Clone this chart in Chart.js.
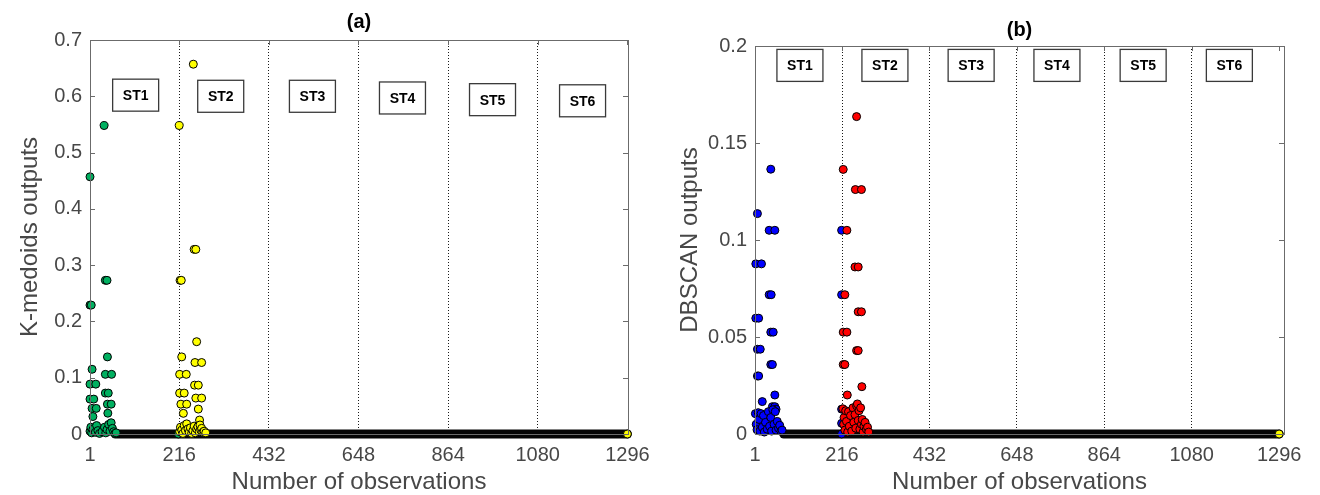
<!DOCTYPE html>
<html>
<head>
<meta charset="utf-8">
<script src="https://cdn.jsdelivr.net/npm/chart.js@4"></script>
<style>
  html, body { margin: 0; padding: 0; background: #fff; }
  #wrap { position: relative; width: 1320px; height: 495px; }
  .pane { position: absolute; top: 0; width: 660px; height: 495px; }
</style>
</head>
<body>
<div id="wrap">
  <div class="pane" style="left:0"><canvas id="chartA" width="660" height="495"></canvas></div>
  <div class="pane" style="left:660px"><canvas id="chartB" width="660" height="495"></canvas></div>
</div>
<script>
// Axes communs
var xTicks = [1, 216, 432, 648, 864, 1080, 1296];
var stations = ['ST1', 'ST2', 'ST3', 'ST4', 'ST5', 'ST6'];

// (a) K-medoids
var yTicksA = [0, 0.1, 0.2, 0.3, 0.4, 0.5, 0.6, 0.7];
var kmGreenObs = [1, 35, 1, 4, 38, 42, 43, 6, 1, 15, 38, 53, 1, 10, 38, 45, 6, 16, 43, 52, 8, 44,
  1, 3, 5, 8, 11, 14, 17, 20, 24, 30, 36, 39, 42, 46, 49, 52, 55, 58, 61, 64, 214];
var kmGreenVal = [0.457, 0.548, 0.229, 0.229, 0.273, 0.273, 0.137, 0.115, 0.0886, 0.0886, 0.106, 0.106,
  0.062, 0.062, 0.0727, 0.0727, 0.0455, 0.0455, 0.053, 0.053, 0.031, 0.037,
  0.005, 0.012, 0.002, 0.008, 0.01, 0.003, 0.015, 0.006, 0.001, 0.004, 0.012, 0.002, 0.008, 0.017,
  0.005, 0.02, 0.01, 0.004, 0.001, 0.002, 0];
var kmYellowObs = [250, 216, 252, 256, 218, 221, 258, 222, 254, 270, 217, 233, 253, 262, 217, 228,
  256, 270, 220, 234, 262, 226, 265,
  217, 219, 222, 225, 228, 231, 234, 237, 240, 243, 246, 249, 252, 255, 258, 261, 264, 266, 268,
  270, 273, 276, 280];
var kmYellowVal = [0.657, 0.548, 0.328, 0.328, 0.273, 0.273, 0.164, 0.137, 0.127, 0.127, 0.106, 0.106,
  0.0868, 0.0868, 0.0727, 0.0727, 0.0638, 0.0638, 0.053, 0.053, 0.0443, 0.0367, 0.0248,
  0.004, 0.012, 0.007, 0.001, 0.015, 0.006, 0.018, 0.009, 0.003, 0.011, 0.001, 0.006, 0.014, 0.002,
  0.009, 0.013, 0.004, 0.016, 0.007, 0.01, 0.003, 0.005, 0.002];
var kmZeroRun = [62, 1296]; // observations dont la sortie vaut 0

// (b) DBSCAN
var yTicksB = [0, 0.05, 0.1, 0.15, 0.2];
var dbBlueObs = [40, 7, 36, 50, 3, 17, 36, 41, 3, 10, 40, 46, 7, 14, 40, 44, 7, 10, 50, 19, 44, 50, 53,
  215, 215, 215, 215, 215,
  2, 4, 6, 9, 11, 13, 16, 19, 22, 24, 27, 31, 34, 37, 40, 42, 45, 48, 51, 53, 56, 59, 62, 65, 68];
var dbBlueVal = [0.1365, 0.1136, 0.105, 0.105, 0.0877, 0.0877, 0.0718, 0.0718, 0.0597, 0.0597,
  0.0525, 0.0525, 0.0437, 0.0437, 0.0358, 0.0358, 0.0299, 0.0299, 0.0201, 0.0167, 0.0141, 0.0141, 0.0128,
  0.105, 0.0718, 0.0128, 0.0055, 0,
  0.0105, 0.005, 0.0022, 0.011, 0.0075, 0.0015, 0.0105, 0.0035, 0.0095, 0.001, 0.006, 0.0025, 0.0115,
  0.004, 0.0085, 0.0015, 0.0125, 0.005, 0.0115, 0.002, 0.0065, 0.003, 0.0045, 0.0015, 0.002];
var dbRedObs = [252, 219, 249, 264, 228, 248, 256, 223, 256, 264, 219, 228, 252, 256, 219, 223, 265, 229,
  218, 220, 221, 223, 225, 227, 230, 232, 234, 237, 240, 243, 245, 248, 250, 252, 254, 256, 258, 260,
  262, 264, 266, 268, 270, 273, 276, 279, 282];
var dbRedVal = [0.1636, 0.1364, 0.126, 0.126, 0.105, 0.0861, 0.0861, 0.0718, 0.063, 0.063, 0.0525, 0.0525,
  0.043, 0.043, 0.0358, 0.0358, 0.0244, 0.0201,
  0.013, 0.005, 0.0085, 0.002, 0.012, 0.0065, 0.001, 0.0115, 0.004, 0.0095, 0.0015, 0.0135, 0.006, 0.01,
  0.003, 0.0145, 0.0155, 0.007, 0.012, 0.0025, 0.0135, 0.005, 0.0075, 0.001, 0.004, 0.006, 0.0025,
  0.0035, 0.001];
var dbZeroRun = [72, 1296];

var lastObs = [1296];
var lastVal = [0];

function pts(xs, ys) {
  return xs.map(function (x, i) { return { x: x, y: ys[i] }; });
}

Chart.defaults.font.family = "'Liberation Sans', Arial, Helvetica, sans-serif";
Chart.defaults.color = '#474747';

// Cadre, petits traits de graduation, boîtes ST et titre (a)/(b)
var decorPlugin = {
  id: 'decor',
  afterDatasetsDraw: function (chart, args, opts) {
    var ctx = chart.ctx, a = chart.chartArea;
    var xs = chart.scales.x, ys = chart.scales.y;
    ctx.save();
    ctx.strokeStyle = '#6b6b6b';
    ctx.lineWidth = 1;
    ctx.strokeRect(Math.round(a.left) + 0.5, Math.round(a.top) + 0.5,
      Math.round(a.right - a.left), Math.round(a.bottom - a.top));
    ctx.beginPath();
    ys.ticks.forEach(function (t) {
      var y = Math.round(ys.getPixelForValue(t.value)) + 0.5;
      ctx.moveTo(a.left, y); ctx.lineTo(a.left + 5, y);
      ctx.moveTo(a.right, y); ctx.lineTo(a.right - 5, y);
    });
    xs.ticks.forEach(function (t) {
      var x = Math.round(xs.getPixelForValue(t.value)) + 0.5;
      ctx.moveTo(x, a.top); ctx.lineTo(x, a.top + 5);
    });
    ctx.stroke();

    // boîtes des stations
    ctx.font = 'bold 14px ' + Chart.defaults.font.family;
    ctx.textAlign = 'center';
    ctx.textBaseline = 'middle';
    stations.forEach(function (s, i) {
      var cx = xs.getPixelForValue(opts.labelX[i]);
      var cy = ys.getPixelForValue(opts.labelY[i]);
      ctx.fillStyle = '#fff';
      ctx.fillRect(cx - 23, cy - 16, 46, 32);
      ctx.strokeStyle = '#3a3a3a';
      ctx.lineWidth = 1.3;
      ctx.strokeRect(cx - 23, cy - 16, 46, 32);
      ctx.fillStyle = '#000';
      ctx.fillText(s, cx, cy + 1);
    });

    ctx.font = 'bold 20px ' + Chart.defaults.font.family;
    ctx.fillStyle = '#000';
    ctx.fillText(opts.title, (a.left + a.right) / 2, opts.titleY);
    ctx.restore();
  }
};

function makeChart(id, cfg) {
  var ctx = document.getElementById(id).getContext('2d');
  return new Chart(ctx, {
    data: {
      datasets: cfg.series.map(function (s) {
        return {
          type: 'scatter',
          data: s.data,
          backgroundColor: s.color,
          borderColor: '#000',
          pointRadius: 4,
          pointBorderWidth: 1,
          clip: false,
          order: s.order
        };
      }).concat([{
        type: 'line',
        data: [{ x: cfg.zeroRun[0], y: 0 }, { x: cfg.zeroRun[1], y: 0 }],
        borderColor: '#050505',
        borderWidth: 9,
        borderCapStyle: 'round',
        pointRadius: 0,
        clip: false,
        order: 5
      }])
    },
    options: {
      responsive: false,
      animation: false,
      layout: { padding: { top: cfg.top, right: cfg.right, bottom: 0, left: 0 } },
      plugins: {
        legend: { display: false },
        tooltip: { enabled: false },
        decor: { labelX: cfg.labelX, labelY: cfg.labelY, title: cfg.title, titleY: cfg.titleY }
      },
      scales: {
        x: {
          type: 'linear',
          min: 1,
          max: cfg.xMax,
          afterBuildTicks: function (scale) {
            scale.ticks = xTicks.map(function (v) { return { value: v }; });
          },
          afterFit: function (scale) { scale.height = 61; },
          ticks: {
            padding: 9,
            font: { size: 20 },
            callback: function (v) { return String(v); }
          },
          grid: {
            drawTicks: false,
            lineWidth: 1,
            color: function (c) {
              var v = c.tick && c.tick.value;
              return (v === 1 || v === 1296) ? 'rgba(0,0,0,0)' : '#1a1a1a';
            }
          },
          border: { display: false, dash: [1, 2] },
          title: {
            display: true,
            text: 'Number of observations',
            font: { size: 24 },
            padding: { top: 0, bottom: -2 }
          }
        },
        y: {
          type: 'linear',
          min: 0,
          max: cfg.yMax,
          afterBuildTicks: function (scale) {
            scale.ticks = cfg.yTicks.map(function (v) { return { value: v }; });
          },
          afterFit: function (scale) { scale.width = cfg.yWidth; },
          ticks: {
            padding: 8,
            font: { size: 20 },
            callback: function (v) { return String(v); }
          },
          grid: { display: false, drawTicks: false },
          border: { display: false },
          title: {
            display: true,
            text: cfg.yTitle,
            font: { size: 24 },
            padding: { top: 16, bottom: 0 }
          }
        }
      }
    },
    plugins: [decorPlugin]
  });
}

makeChart('chartA', {
  title: '(a)', titleY: 22,
  top: 40, right: 32, yWidth: 90,
  xMax: 1297.5, yMax: 0.7, yTicks: yTicksA,
  yTitle: 'K-medoids outputs',
  zeroRun: kmZeroRun,
  labelX: [111, 316, 537, 754, 971, 1188],
  labelY: [0.602, 0.600, 0.600, 0.597, 0.594, 0.592],
  series: [
    { data: pts(lastObs, lastVal), color: '#ffff00', order: 0 },
    { data: pts(kmYellowObs, kmYellowVal), color: '#ffff00', order: 1 },
    { data: pts(kmGreenObs, kmGreenVal), color: '#00b060', order: 2 }
  ]
});

makeChart('chartB', {
  title: '(b)', titleY: 30,
  top: 46, right: 36, yWidth: 95,
  xMax: 1308, yMax: 0.2, yTicks: yTicksB,
  yTitle: 'DBSCAN outputs',
  zeroRun: dbZeroRun,
  labelX: [112, 322, 535, 747, 960, 1173],
  labelY: [0.19, 0.19, 0.19, 0.19, 0.19, 0.19],
  series: [
    { data: pts(lastObs, lastVal), color: '#ffff00', order: 0 },
    { data: pts(dbRedObs, dbRedVal), color: '#ff0000', order: 1 },
    { data: pts(dbBlueObs, dbBlueVal), color: '#0000ff', order: 2 }
  ]
});
</script>
</body>
</html>
